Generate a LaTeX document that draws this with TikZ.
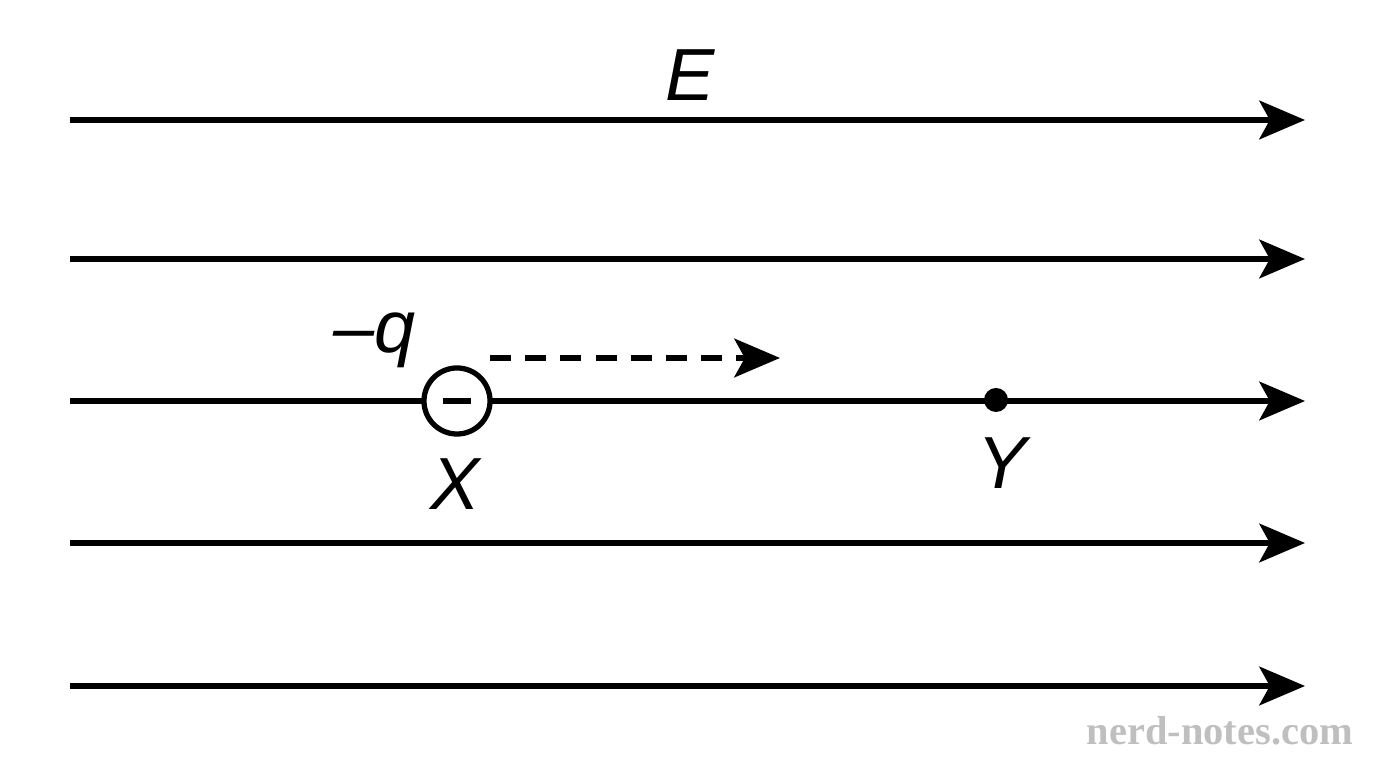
\documentclass[tikz,border=0pt]{standalone}
\usepackage{fontspec}
\setmainfont{Liberation Sans}
\newfontfamily\markfont{Liberation Serif}
\usetikzlibrary{arrows.meta,positioning}
\begin{document}
\begin{tikzpicture}[x=0.01cm,y=-0.01cm,
			fld/.style={line width=1.5pt,-{Stealth[length=13pt,width=11pt,inset=3pt]}},
			lbl/.style={inner sep=0pt,font=\fontsize{21}{21}\selectfont\itshape}]
		\useasboundingbox (0,0) rectangle (1376,768);
		% field lines
		\foreach \n/\y in {1/120,2/259,3/401,4/543,5/686}{
			\coordinate (a\n) at (70,\y);
			\coordinate (b\n) at (1305,\y);
			\draw [fld] (a\n) -- (b\n);
		}
		\node (e) [lbl] at (690,75) {E};
		% charge at X
		\node (x) [circle,draw,line width=1.5pt,fill=white,minimum size=0.66cm,inner sep=0pt] at (457,401) {};
		\draw [line width=1.5pt] ([xshift=-0.14cm]x.center) -- ([xshift=0.14cm]x.center);
		\node (q) [lbl] at (375,340) {\mbox{--}q};
		\node (xl) [lbl] at (455,484) {X};
		\coordinate (d1) at (490,358);
		\coordinate (d2) at (780,358);
		\draw [fld,dash pattern=on 6pt off 4pt] (d1) -- (d2);
		% point Y
		\node (y) [circle,fill,inner sep=0pt,minimum size=0.24cm] at (996,400) {};
		\node (yl) [lbl] at (1002,463) {Y};
		\node (wm) [text=black!25,font=\markfont\fontsize{11.5}{11.5}\selectfont\bfseries] at (1220,731) {nerd-notes.com};
	\end{tikzpicture}
\end{document}
